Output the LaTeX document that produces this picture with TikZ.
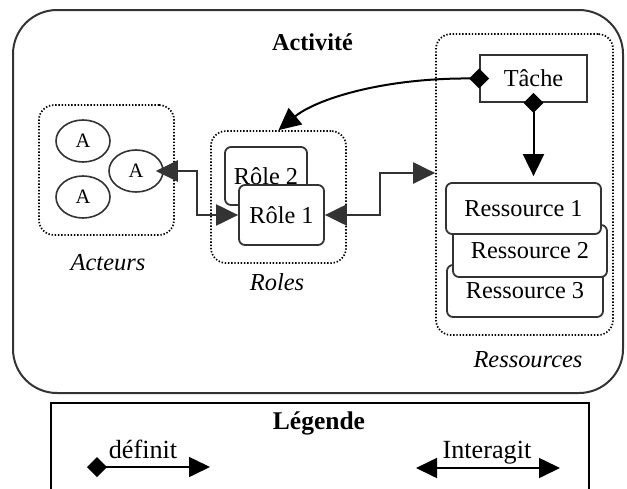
\documentclass[tikz,border=0pt]{standalone}
\usepackage{fontspec}
\setmainfont{Liberation Serif}
\usetikzlibrary{arrows.meta,shapes.geometric,calc}
\definecolor{dg}{HTML}{333333}
\begin{document}
\begin{tikzpicture}[x=1pt,y=-1pt,
  box/.style={draw=dg, line width=1.8pt, rounded corners=6pt, fill=white, inner sep=0pt, font=\fontsize{24.3}{28}\selectfont},
  tachebox/.style={draw=dg, line width=1.9pt, fill=white, inner sep=0pt, font=\fontsize{24.3}{28}\selectfont},
  actor/.style={ellipse, draw=dg, line width=1.6pt, fill=white, minimum width=54pt, minimum height=42pt, inner sep=0pt, font=\fontsize{20.5}{23}\selectfont},
  group/.style={draw=black, line width=1.7pt, dash pattern=on 1.4pt off 1.8pt, rounded corners=15pt, inner sep=0pt},
  lbl/.style={font=\fontsize{24.4}{28}\selectfont\itshape},
  ttl/.style={font=\fontsize{24.2}{28}\selectfont\bfseries},
  legtxt/.style={anchor=base, font=\fontsize{26.2}{30}\selectfont},
  tri/.tip={Triangle[length=22pt,width=21pt]},
  dia/.tip={Diamond[length=20pt,width=20pt]},
  ltri/.tip={Triangle[length=21pt,width=20pt]},
  rconn/.style={draw=dg, line width=2.2pt, {tri}-{tri}},
  tconn/.style={draw=black, line width=2pt},
  lconn/.style={draw=black, line width=1.6pt},
]
\useasboundingbox (0,0) rectangle (627,488);
% outer frame
\draw[draw=dg, line width=2pt, rounded corners=44pt] (13,10) rectangle (623,393);
\node[ttl] (act) at (312.5,42) {Activité};
% groups
\node[group, minimum width=135pt, minimum height=130pt] (acteursG) at (106.5,170) {};
\node[group, minimum width=135pt, minimum height=132pt] (rolesG) at (278.5,197) {};
\node[group, minimum width=177pt, minimum height=301pt] (resG) at (524.5,184.5) {};
% actors
\node[actor] (a1) at (83,141) {A};
\node[actor] (a2) at (136,171) {A};
\node[actor] (a3) at (83,197) {A};
% roles
\node[box, minimum width=82pt, minimum height=58pt] (r2) at (266,176) {Rôle 2};
\node[box, minimum width=85pt, minimum height=60pt] (r1) at (281.5,215) {Rôle 1};
% resources
\node[box, minimum width=156pt, minimum height=52pt] (resC) at (525,291) {Ressource 3};
\node[box, minimum width=154pt, minimum height=52pt] (resB) at (530,251) {Ressource 2};
\node[box, minimum width=155pt, minimum height=51pt] (resA) at (523.5,208.5) {Ressource 1};
\node[tachebox, minimum width=107pt, minimum height=47pt] (tache) at (533.5,78.5) {Tâche};
% labels
\node[lbl] (lact) at (108,263) {Acteurs};
\node[lbl] (lrol) at (277,282) {Roles};
\node[lbl] (lres) at (528,360) {Ressources};
% connectors
\draw[rconn] (r1.west) -- ++(-41,0) |- ([xshift=-8pt]a2.east);
\draw[rconn] (r1.east) -- ++(55,0) |- ([yshift=11.5pt]resG.west);
\draw[tconn, {dia}-{tri}, shorten <=-10pt] (tache.west) .. controls (380,78) and (315,100) .. (rolesG.north);
\draw[tconn, {dia}-{tri}, shorten <=-10pt, shorten >=6pt] (tache.south) -- (tache.south |- resA.north);
% legend
\draw[draw=black, line width=1.8pt] (51,500) -- (51,403) -- (589,403) -- (589,500);
\node[ttl, font=\fontsize{25.5}{29}\selectfont\bfseries] (leg) at (319,423) {Légende};
\coordinate (d1) at (87,467);
\coordinate (d2) at (210,467);
\coordinate (i1) at (416,468);
\coordinate (i2) at (560,468);
\draw[lconn, {dia}-{ltri}] (d1) -- (d2);
\draw[lconn, {ltri}-{ltri}] (i1) -- (i2);
\node[legtxt] (ldef) at (143,458) {définit};
\node[legtxt] (lint) at (487,458) {Interagit};
\end{tikzpicture}
\end{document}
